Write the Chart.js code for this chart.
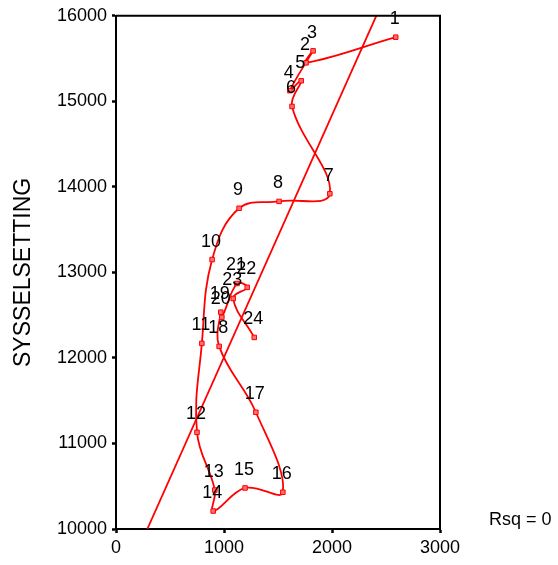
<!DOCTYPE html>
<html>
<head>
<meta charset="utf-8">
<script src="https://cdn.jsdelivr.net/npm/chart.js@4.4.1/dist/chart.umd.min.js"></script>
<style>
  html, body { margin: 0; padding: 0; background: #fff; }
  #wrap { width: 558px; height: 565px; }
</style>
</head>
<body>
<div id="wrap"><canvas id="chart" width="558" height="565"></canvas></div>
<script>
// case numbers shown next to each point
const caseLabels = ['1','2','3','4','5','6','7','8','9','10','11','12',
                    '13','14','15','16','17','18','19','20','21','22','23','24'];
// x values (no axis title in the original)
const xValues = [2590, 1760, 1825, 1610, 1715, 1630, 1980, 1510, 1140, 890, 795, 750,
                 915, 900, 1195, 1545, 1295, 955, 970, 980, 1120, 1215, 1085, 1280];
// SYSSELSETTING
const sysselsetting = [15750, 15450, 15590, 15125, 15240, 14940, 13920, 13830, 13750, 13150, 12170, 11130,
                       10455, 10210, 10480, 10430, 11365, 12135, 12535, 12475, 12870, 12825, 12695, 12240];
// fitted line end points
const fitX = [290, 2410];
const fitY = [10000, 16000];
const rsqText = 'Rsq = 0';

const RED = '#ff0000';
const FONT = '"Liberation Sans", Arial, sans-serif';

const pathPoints = xValues.map((x, i) => ({x: x, y: sysselsetting[i]}));
const fitPoints = fitX.map((x, i) => ({x: x, y: fitY[i]}));

// frame round the plot area
const boxPlugin = {
    id: 'box',
    afterDraw(chart){
        const a = chart.chartArea, ctx = chart.ctx;
        ctx.save();
        ctx.strokeStyle = '#000';
        ctx.lineWidth = 2;
        ctx.beginPath();
        ctx.moveTo(a.left, a.top);
        ctx.lineTo(a.right, a.top);
        ctx.lineTo(a.right, a.bottom);
        ctx.stroke();
        ctx.restore();
    }
};

// numbers above the points + Rsq note
const labelPlugin = {
    id: 'caseLabels',
    afterDatasetsDraw(chart){
        const ctx = chart.ctx;
        const meta = chart.getDatasetMeta(0);
        ctx.save();
        ctx.fillStyle = '#000';
        ctx.font = '18px ' + FONT;
        ctx.textAlign = 'center';
        ctx.textBaseline = 'middle';
        meta.data.forEach((pt, i) => {
            ctx.fillText(caseLabels[i], pt.x - 1, pt.y - 18);
        });
        const a = chart.chartArea;
        ctx.textAlign = 'left';
        ctx.fillText(rsqText, a.right + 49, a.bottom - 9);
        ctx.restore();
    }
};

new Chart(document.getElementById('chart'), {
    type: 'scatter',
    data: {
        datasets: [{
            data: pathPoints,
            showLine: true,
            tension: 0.4,
            borderColor: RED,
            borderWidth: 1.8,
            pointStyle: 'rect',
            pointRadius: 3.2,
            pointBackgroundColor: '#ff7070',
            pointBorderColor: RED,
            pointBorderWidth: 1
        }, {
            data: fitPoints,
            showLine: true,
            borderColor: RED,
            borderWidth: 1.8,
            pointRadius: 0
        }]
    },
    options: {
        responsive: false,
        devicePixelRatio: 1,
        animation: false,
        layout: {padding: {top: 15, right: 118, bottom: 0, left: 0}},
        plugins: {
            legend: {display: false},
            tooltip: {enabled: false}
        },
        scales: {
            x: {
                min: 0, max: 3000,
                ticks: {stepSize: 1000, color: '#000', font: {family: FONT, size: 18}, padding: 4, maxRotation: 0,
                        callback: v => String(v)},
                grid: {drawOnChartArea: false, tickLength: 4, tickWidth: 2.5, tickColor: '#000'},
                border: {color: '#000', width: 2},
                afterFit(scale){ scale.height = 36; }
            },
            y: {
                min: 10000, max: 16000,
                ticks: {stepSize: 1000, color: '#000', font: {family: FONT, size: 18}, padding: 5,
                        callback: v => String(v)},
                grid: {drawOnChartArea: false, tickLength: 4, tickWidth: 2.5, tickColor: '#000'},
                border: {color: '#000', width: 2},
                title: {display: true, text: 'SYSSELSETTING', color: '#000',
                        font: {family: FONT, size: 23}, padding: {top: 10, bottom: 0}},
                afterFit(scale){ scale.width = 116; }
            }
        }
    },
    plugins: [boxPlugin, labelPlugin]
});
</script>
</body>
</html>
